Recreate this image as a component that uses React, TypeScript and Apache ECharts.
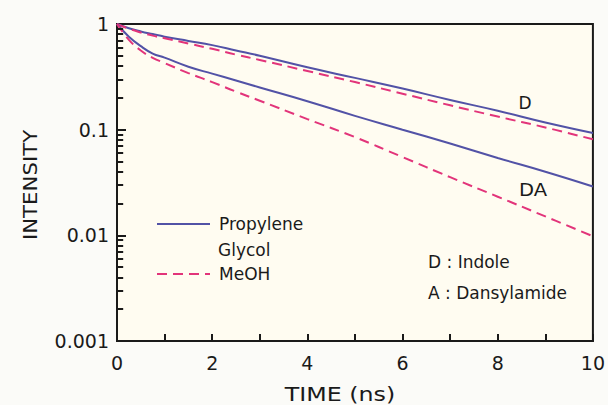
import React, { useEffect, useRef } from "react";
import * as echarts from "echarts";

const times = [0, 0.25, 0.5, 0.75, 1, 1.5, 2, 2.5, 3, 4, 5, 6, 7, 8, 9, 10];
const dPropylene = [1, 0.912, 0.851, 0.803, 0.759, 0.692, 0.631, 0.562, 0.501, 0.389, 0.309, 0.245, 0.191, 0.151, 0.117, 0.093];
const dMeOH = [1, 0.902, 0.832, 0.776, 0.733, 0.653, 0.582, 0.513, 0.457, 0.359, 0.282, 0.219, 0.17, 0.133, 0.105, 0.081];
const daPropylene = [1, 0.759, 0.617, 0.525, 0.48, 0.394, 0.339, 0.292, 0.251, 0.186, 0.135, 0.1, 0.074, 0.054, 0.04, 0.029];
const daMeOH = [1, 0.708, 0.562, 0.479, 0.427, 0.343, 0.282, 0.229, 0.188, 0.126, 0.085, 0.055, 0.0355, 0.0232, 0.0151, 0.0098];
const yTickLabels = ["0.001", "0.01", "0.1", "1"];
const xTickLabels = ["0", "2", "4", "6", "8", "10"];
const yMinorTicks = [
  0.002, 0.003, 0.004, 0.005, 0.006, 0.007, 0.008, 0.009,
  0.02, 0.03, 0.04, 0.05, 0.06, 0.07, 0.08, 0.09,
  0.2, 0.3, 0.4, 0.5, 0.6, 0.7, 0.8, 0.9,
];

const BLUE = "#5252a6";
const PINK = "#e2347a";
const INK = "#1a1a1a";
const FONT = "DejaVu Sans";
const MINOR_TICK_SPAN = 0.13; // ns, length of the minor y ticks

const GL = 117, GR = 14, GT = 24, GB = 64, W = 608, H = 405;

const pairs = (ys: number[]) => times.map((t, i) => [t, ys[i]]);

export default function App() {
  const ref = useRef<HTMLDivElement>(null);
  useEffect(() => {
    document.body.style.margin = "0";
    const chart = echarts.init(ref.current!, null, { renderer: "svg" });
    const solid = { color: BLUE, width: 2, type: "solid" as const };
    const dashed = { color: PINK, width: 2, type: [10, 6] as any };
    const lineCommon = { type: "line", symbol: "none", smooth: 0.45 };
    chart.setOption({
      animation: false,
      backgroundColor: "transparent",
      grid: {
        left: GL,
        right: GR,
        top: GT,
        bottom: GB,
        show: true,
        backgroundColor: "transparent",
        borderColor: INK,
        borderWidth: 2,
      },
      legend: {
        data: ["Propylene Glycol", "MeOH"],
        orient: "vertical",
        left: 156,
        top: 214,
        padding: 0,
        itemWidth: 53,
        itemHeight: 14,
        itemGap: 30,
        selectedMode: false,
        itemStyle: { opacity: 0 },
        formatter: (name: string) => (name === "Propylene Glycol" ? "Propylene" : name),
        textStyle: { fontFamily: FONT, fontSize: 17, color: INK, lineHeight: 20, padding: [0, 0, 0, 4] },
      },
      xAxis: {
        type: "value",
        min: 0,
        max: 10,
        interval: 1,
        axisLine: { show: true, lineStyle: { color: INK, width: 2 } },
        axisTick: { show: true, inside: true, length: 7, lineStyle: { color: INK, width: 2 } },
        splitLine: { show: false },
        axisLabel: {
          margin: 12,
          fontFamily: FONT,
          fontSize: 19,
          color: INK,
          formatter: (v: number) => (v % 2 === 0 ? xTickLabels[v / 2] : ""),
        },
      },
      yAxis: {
        type: "log",
        logBase: 10,
        min: 0.001,
        max: 1,
        axisLine: { show: true, lineStyle: { color: INK, width: 2 } },
        axisTick: { show: true, inside: true, length: 9, lineStyle: { color: INK, width: 2 } },
        splitLine: { show: false },
        axisLabel: {
          margin: 8,
          fontFamily: FONT,
          fontSize: 19,
          color: INK,
          formatter: (_v: number, i: number) => yTickLabels[i] ?? "",
        },
      },
      series: [
        {
          ...lineCommon,
          name: "Propylene Glycol",
          data: pairs(dPropylene),
          lineStyle: solid,
          itemStyle: { color: BLUE },
          markLine: {
            silent: true,
            symbol: ["none", "none"],
            label: { show: false },
            emphasis: { disabled: true },
            lineStyle: { color: INK, width: 2, type: "solid" },
            data: yMinorTicks.map((v) => [{ coord: [0, v] }, { coord: [MINOR_TICK_SPAN, v] }]),
          },
        },
        { ...lineCommon, name: "MeOH", data: pairs(dMeOH), lineStyle: dashed, itemStyle: { color: PINK } },
        { ...lineCommon, name: "Propylene Glycol", data: pairs(daPropylene), lineStyle: solid, itemStyle: { color: BLUE } },
        { ...lineCommon, name: "MeOH", data: pairs(daMeOH), lineStyle: dashed, itemStyle: { color: PINK } },
      ],
      graphic: [
        { type: "text", x: 30, y: 185, rotation: Math.PI / 2, scaleX: 1.12, style: { text: "INTENSITY", fontFamily: FONT, fontSize: 19, fill: INK, align: "center", verticalAlign: "middle" } },
        { type: "text", x: 340, y: 394, scaleX: 1.25, style: { text: "TIME (ns)", fontFamily: FONT, fontSize: 19, fill: INK, align: "center", verticalAlign: "middle" } },
        { type: "text", x: 218, y: 250, style: { text: "Glycol", fontFamily: FONT, fontSize: 17, fill: INK, align: "left", verticalAlign: "middle" } },
        { type: "text", x: 525, y: 103, style: { text: "D", fontFamily: FONT, fontSize: 17, fill: INK, align: "center", verticalAlign: "middle" } },
        { type: "text", x: 533, y: 190, scaleX: 1.15, style: { text: "DA", fontFamily: FONT, fontSize: 17, fill: INK, align: "center", verticalAlign: "middle" } },
        { type: "text", x: 428, y: 262, style: { text: "D : Indole", fontFamily: FONT, fontSize: 17, fill: INK, align: "left", verticalAlign: "middle" } },
        { type: "text", x: 428, y: 293, style: { text: "A : Dansylamide", fontFamily: FONT, fontSize: 17, fill: INK, align: "left", verticalAlign: "middle" } },
      ],
    });
    return () => chart.dispose();
  }, []);
  return (
    <div style={{ position: "relative", width: W, height: H, background: "#fbfbf8" }}>
      <div style={{ position: "absolute", left: GL, top: GT, width: W - GL - GR, height: H - GT - GB, background: "#fffcf1" }} />
      <div ref={ref} style={{ position: "absolute", left: 0, top: 0, width: W, height: H }} />
    </div>
  );
}
